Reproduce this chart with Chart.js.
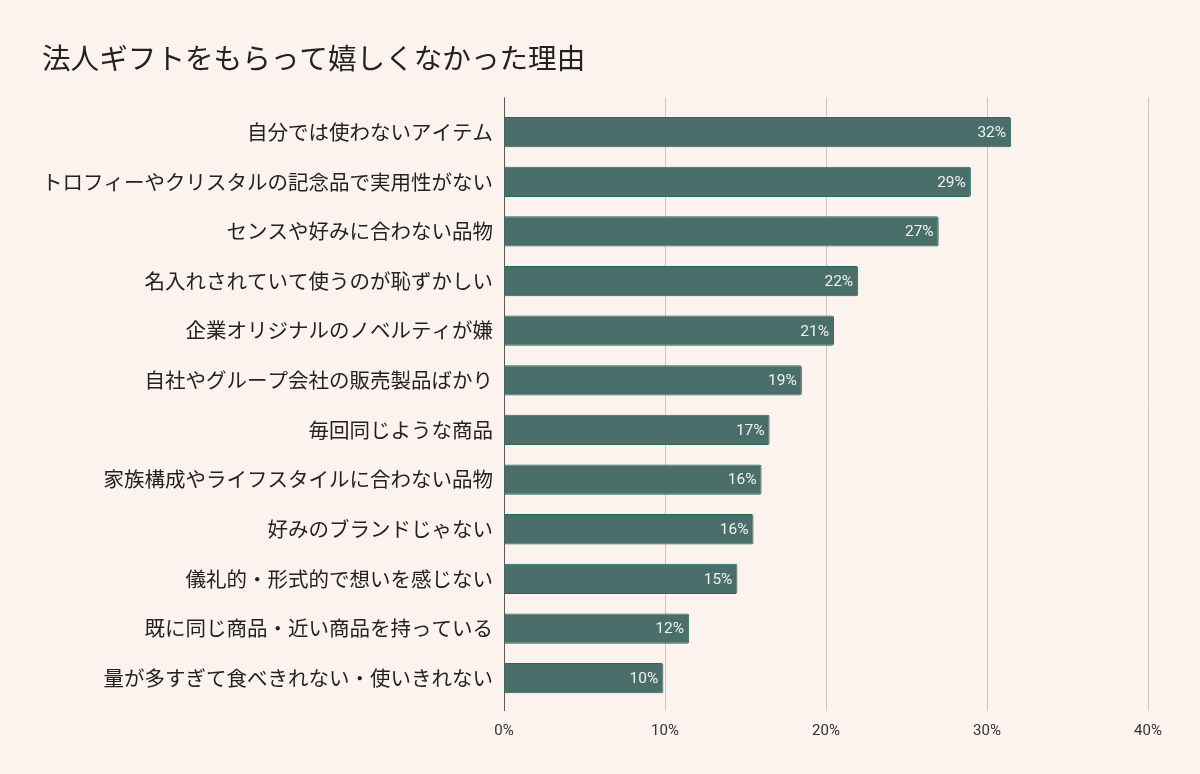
<!DOCTYPE html>
<html>
<head>
<meta charset="utf-8">
<script src="https://cdn.jsdelivr.net/npm/chart.js@4.4.1/dist/chart.umd.min.js"></script>
<style>
html,body{margin:0;padding:0;background:#fcf3ee;}
#wrap{width:1200px;height:774px;}
</style>
</head>
<body>
<div id="wrap"><canvas id="c" width="1200" height="774"></canvas></div>
<script>
const titleText = "法人ギフトをもらって嬉しくなかった理由";
const categories = [
  "自分では使わないアイテム",
  "トロフィーやクリスタルの記念品で実用性がない",
  "センスや好みに合わない品物",
  "名入れされていて使うのが恥ずかしい",
  "企業オリジナルのノベルティが嫌",
  "自社やグループ会社の販売製品ばかり",
  "毎回同じような商品",
  "家族構成やライフスタイルに合わない品物",
  "好みのブランドじゃない",
  "儀礼的・形式的で想いを感じない",
  "既に同じ商品・近い商品を持っている",
  "量が多すぎて食べきれない・使いきれない"
];
const values = [31.5, 29.0, 27.0, 22.0, 20.5, 18.5, 16.5, 16.0, 15.5, 14.5, 11.5, 9.9];
const xTicks = [0, 10, 20, 30, 40];

const bg = '#fcf3ee';
const barFill = '#4a6e69';
const barBorder = '#23675e';
const gridColor = '#cfc6c1';
const axisColor = '#5a5a5a';

const bgPlugin = {
  id: 'bg',
  beforeDraw(chart) {
    const ctx = chart.ctx;
    ctx.save();
    ctx.fillStyle = bg;
    ctx.fillRect(0, 0, chart.width, chart.height);
    ctx.restore();
  }
};

const gridExtend = {
  id: 'gridExtend',
  beforeDatasetsDraw(chart) {
    const ctx = chart.ctx;
    const xs = chart.scales.x;
    const top = chart.chartArea.top;
    ctx.save();
    ctx.lineWidth = 1;
    xTicks.forEach(v => {
      const x = Math.round(xs.getPixelForValue(v)) + 0.5;
      ctx.strokeStyle = v === 0 ? axisColor : gridColor;
      ctx.beginPath();
      ctx.moveTo(x, top - 10);
      ctx.lineTo(x, top);
      ctx.stroke();
    });
    ctx.restore();
  }
};

const valueLabels = {
  id: 'valueLabels',
  afterDatasetsDraw(chart) {
    const ctx = chart.ctx;
    const meta = chart.getDatasetMeta(0);
    ctx.save();
    ctx.font = '15.5px Roboto, "Noto Sans", sans-serif';
    ctx.fillStyle = '#f2f2f2';
    ctx.textAlign = 'right';
    ctx.textBaseline = 'middle';
    meta.data.forEach((bar, i) => {
      ctx.fillText(Math.round(values[i]) + '%', bar.x - 5, bar.y + 1);
    });
    ctx.restore();
  }
};

new Chart(document.getElementById('c'), {
  type: 'bar',
  data: {
    labels: categories,
    datasets: [{
      data: values,
      backgroundColor: barFill,
      borderColor: barBorder,
      borderWidth: 1,
      borderRadius: 2,
      borderSkipped: 'start',
      barPercentage: 0.61,
      categoryPercentage: 1.0
    }]
  },
  options: {
    indexAxis: 'y',
    responsive: false,
    animation: false,
    devicePixelRatio: 1,
    layout: { padding: { left: 42, right: 52, top: 0, bottom: 23 } },
    plugins: {
      legend: { display: false },
      tooltip: { enabled: false },
      title: {
        display: true,
        text: titleText,
        align: 'start',
        color: '#222',
        font: { family: '"Noto Sans CJK JP", "Noto Sans", sans-serif', size: 28.6, weight: 'normal' },
        padding: { top: 41, bottom: 32 }
      }
    },
    scales: {
      x: {
        type: 'linear',
        min: 0,
        max: 40,
        afterBuildTicks(scale) { scale.ticks = xTicks.map(v => ({ value: v })); },
        ticks: {
          callback: v => v + '%',
          color: '#333',
          font: { family: 'Roboto, "DejaVu Sans", sans-serif', size: 15 },
          padding: 11,
          maxRotation: 0
        },
        grid: {
          color: ctx => (ctx.tick && ctx.tick.value === 0) ? axisColor : gridColor,
          lineWidth: 1,
          tickLength: 8,
          drawTicks: true
        },
        border: { display: false }
      },
      y: {
        afterFit(scale) { scale.width = 504 - 42; },
        ticks: {
          color: '#222',
          font: { family: '"Noto Sans CJK JP", "Noto Sans", sans-serif', size: 20.5 },
          padding: 11,
          autoSkip: false
        },
        grid: { display: false, drawTicks: false },
        border: { display: true, color: axisColor, width: 1 }
      }
    }
  },
  plugins: [bgPlugin, gridExtend, valueLabels]
});
</script>
</body>
</html>
